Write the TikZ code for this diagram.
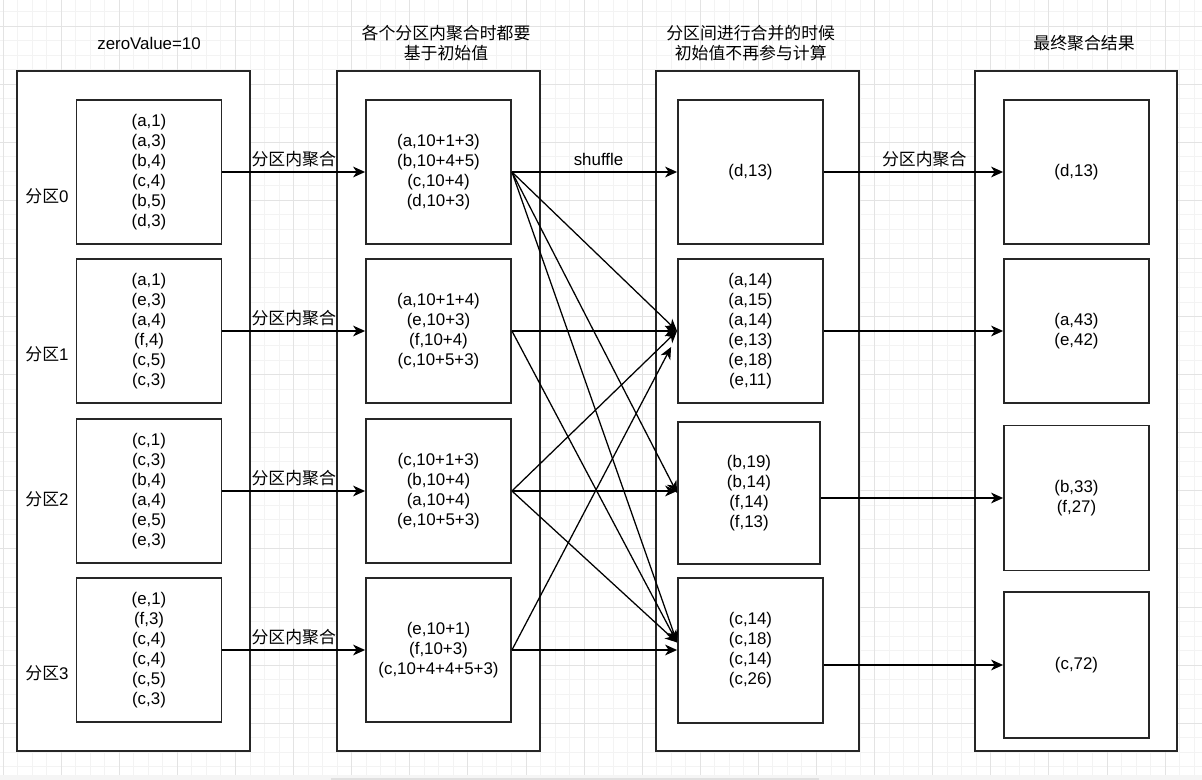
\documentclass[tikz,border=0pt]{standalone}
\usepackage{fontspec}
\usepackage{tikz}
\setmainfont{Liberation Sans}
\newfontfamily\cjk{Noto Sans CJK SC}
\usetikzlibrary{arrows.meta}
\definecolor{gridminor}{HTML}{F3F3F3}
\definecolor{gridmajor}{HTML}{E3E3E3}
\tikzset{
  txt/.style={font=\fontsize{12}{14.2}\selectfont, align=center, inner sep=0pt},
  cn/.style={font=\cjk\fontsize{12}{14.2}\selectfont, align=center, inner sep=0pt},
  colframe/.style={draw=black!85, line width=1.3pt, fill=white, minimum width=#1, minimum height=17cm, inner sep=0pt},
  part/.style={draw=black!85, line width=1.3pt, fill=white, minimum width=3.625cm, minimum height=3.6cm, txt},
  flow/.style={line width=0.9pt, -{Stealth[length=0.3cm, width=0.27cm, inset=0.09cm]}}
}

\begin{document}
\begin{tikzpicture}[x=0.025cm,y=-0.025cm]
      \useasboundingbox (0,0) rectangle (1202,780);
      \foreach \i in {0,...,82}
        \draw [gridminor, line width=0.7pt] ({3.1+14.525*\i},0) -- ({3.1+14.525*\i},775);
      \foreach \j in {0,...,52}
        \draw [gridminor, line width=0.7pt] (0,{11.5+14.525*\j}) -- (1202,{11.5+14.525*\j});
      \foreach \i in {0,...,20}
        \draw [gridmajor, line width=0.7pt] ({3.1+58.1*\i},0) -- ({3.1+58.1*\i},775);
      \foreach \j in {0,...,12}
        \draw [gridmajor, line width=0.7pt] (0,{26+58.1*\j}) -- (1202,{26+58.1*\j});
      \fill [black!4] (0,775) rectangle (1202,780);
      \fill [black!12] (331,777.5) rectangle (819,780);

      \node [txt] (t1) at (149,43.5) {zeroValue=10};
      \node [cn] (t2) at (446,43.3) {各个分区内聚合时都要\\基于初始值};
      \node [cn] (t3) at (750.7,43) {分区间进行合并的时候\\初始值不再参与计算};
      \node [cn] (t4) at (1084,43.5) {最终聚合结果};

      \node [colframe=5.825cm] (z1) at (133.5,411) {};
      \node [colframe=5.075cm] (z2) at (438.5,411) {};
      \node [colframe=5.075cm] (z3) at (757.5,411) {};
      \node [colframe=5.05cm] (z4) at (1076,411) {};

      \node [txt] (n0) at (47,196) {{\cjk 分区}0};
      \node [txt] (n1) at (47,354) {{\cjk 分区}1};
      \node [txt] (n2) at (47,499) {{\cjk 分区}2};
      \node [txt] (n3) at (47,673) {{\cjk 分区}3};

      \node [part] (p0) at (149,172) {(a,1)\\(a,3)\\(b,4)\\(c,4)\\(b,5)\\(d,3)};
      \node [part] (p1) at (149,331) {(a,1)\\(e,3)\\(a,4)\\(f,4)\\(c,5)\\(c,3)};
      \node [part] (p2) at (149,491) {(c,1)\\(c,3)\\(b,4)\\(a,4)\\(e,5)\\(e,3)};
      \node [part] (p3) at (149,650) {(e,1)\\(f,3)\\(c,4)\\(c,4)\\(c,5)\\(c,3)};

      \node [part] (q0) at (438.5,172) {(a,10+1+3)\\(b,10+4+5)\\(c,10+4)\\(d,10+3)};
      \node [part] (q1) at (438.5,331) {(a,10+1+4)\\(e,10+3)\\(f,10+4)\\(c,10+5+3)};
      \node [part] (q2) at (438.5,491) {(c,10+1+3)\\(b,10+4)\\(a,10+4)\\(e,10+5+3)};
      \node [part] (q3) at (438.5,650) {(e,10+1)\\(f,10+3)\\(c,10+4+4+5+3)};

      \node [part] (m0) at (750.5,172) {(d,13)};
      \node [part] (m1) at (750.5,331) {(a,14)\\(a,15)\\(a,14)\\(e,13)\\(e,18)\\(e,11)};
      \node [part, minimum width=3.55cm, minimum height=3.55cm] (m2) at (749,493) {(b,19)\\(b,14)\\(f,14)\\(f,13)};
      \node [part, minimum height=3.625cm] (m3) at (750.5,650.5) {(c,14)\\(c,18)\\(c,14)\\(c,26)};

      \node [part] (r0) at (1076.5,172) {(d,13)};
      \node [part] (r1) at (1076.5,331) {(a,43)\\(e,42)};
      \node [part, minimum height=3.625cm] (r2) at (1076.5,498) {(b,33)\\(f,27)};
      \node [part, minimum height=3.65cm] (r3) at (1076.5,665) {(c,72)};

      \foreach \k in {0,...,3}
        \draw [flow] (p\k) -- (q\k) node [cn, midway, above=3pt] {分区内聚合};

      \draw [flow] (q0) -- (m0) node [txt, midway, above=4pt, xshift=0.1cm] {shuffle};
      \draw [flow] (q0.east) -- (m1.west);
      \draw [flow] (q0.east) -- (m2.west);
      \draw [flow] (q0.east) -- ([yshift=0.2cm]m3.west);
      \draw [flow] (q1) -- (m1);
      \draw [flow] (q1.east) -- ([yshift=0.2cm]m3.west);
      \draw [flow] (q2.east) -- (m1.west);
      \draw [flow] (q2.east) -- (q2.east -| m2.west);
      \draw [flow] (q2.east) -- ([yshift=0.2cm]m3.west);
      \draw [flow] (q3.east) -- ([xshift=-0.15cm,yshift=-0.4cm]m1.west);
      \draw [flow] (q3.east) -- (q3.east -| m3.west);

      \draw [flow] (m0) -- (r0) node [cn, pos=0.56, above=3pt] {分区内聚合};
      \draw [flow] (m1) -- (r1);
      \draw [flow] (m2.east |- r2.west) -- (r2.west);
      \draw [flow] (m3.east |- r3.west) -- (r3.west);
    \end{tikzpicture}
\end{document}
